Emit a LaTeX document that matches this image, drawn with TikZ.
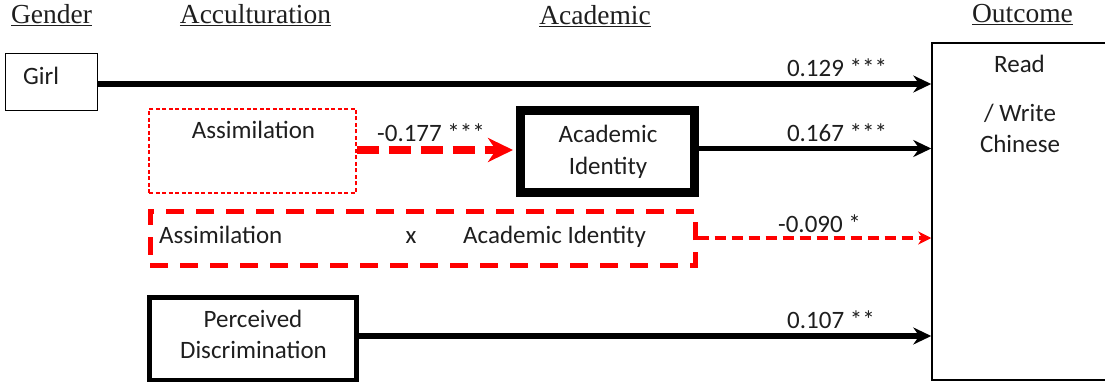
\documentclass[tikz,border=0pt]{standalone}
\usepackage{fontspec}
\setmainfont{Carlito}
\newfontfamily\hdrfont{Liberation Serif}
\usetikzlibrary{arrows.meta}
\definecolor{myred}{RGB}{255,0,0}
\definecolor{txtgray}{RGB}{30,30,30}
\begin{document}
\begin{tikzpicture}[x=1pt,y=-1pt,
  txt/.style={inner sep=0pt, anchor=base, text=txtgray, font=\fontsize{25}{29}\selectfont},
  txtl/.style={txt, anchor=base west},
  hd/.style={inner sep=0pt, anchor=base, text=txtgray, font=\hdrfont\fontsize{27.5}{30}\selectfont},
  box/.style={draw, rectangle, inner sep=0pt},
  blk/.style={line width=5.5pt, -{Stealth[length=18pt,width=17pt,inset=6pt]}},
  redthick/.style={draw=myred, line width=7.5pt, dash pattern=on 22pt off 10pt, -{Stealth[length=25pt,width=24pt,inset=8pt,fill=myred]}},
  redthin/.style={draw=myred, line width=4pt, dash pattern=on 11pt off 6pt, -{Stealth[length=13pt,width=13pt,inset=4pt,fill=myred]}}
]
\useasboundingbox (0,0) rectangle (1105,382);

% headers
\node[hd] (hgender) at (51.5,24) {\underline{Gender}};
\node[hd] (haccult) at (255.5,24) {\underline{Acculturation}};
\node[hd] (hacad) at (595,25) {\underline{Academic}};
\node[hd] (hout) at (1022.5,23) {\underline{Outcome}};

% boxes
\node[box, line width=1.5pt, minimum width=92pt, minimum height=57pt] (girl) at (51.5,82) {};
\node[box, draw=myred, line width=1.2pt, dash pattern=on 4pt off 2.5pt, minimum width=207pt, minimum height=84pt] (assim) at (252.5,151) {};
\node[box, line width=9pt, minimum width=174pt, minimum height=82pt] (acad) at (607.5,151.5) {};
\node[box, draw=myred, line width=5pt, dash pattern=on 18pt off 12pt, minimum width=545pt, minimum height=54pt] (inter) at (422.5,238) {};
\node[box, line width=4.5pt, minimum width=207pt, minimum height=82.5pt] (perc) at (253,338.75) {};
\node[box, line width=1.5pt, minimum width=188pt, minimum height=337pt] (out) at (1026,211.5) {};

% box texts
\node[txtl] (tgirl) at (23,85) {Girl};
\node[txt] (tassim) at (253.5,139) {Assimilation};
\node[txt] (tacad1) at (608,143) {Academic};
\node[txt] (tacad2) at (608,175) {Identity};
\node[txtl] (tint1) at (159,243) {Assimilation};
\node[txt] (tintx) at (411,243) {x};
\node[txtl] (tint2) at (463,243) {Academic Identity};
\node[txt] (tperc1) at (253,327) {Perceived};
\node[txt] (tperc2) at (253.5,358) {Discrimination};
\node[txt] (tout1) at (1019.5,73) {Read};
\node[txt] (tout2) at (1020,122) {/ Write};
\node[txt] (tout3) at (1020,153) {Chinese};

% connectors
\draw[blk] (girl.east |- 0,84) -- (out.west |- 0,84);
\draw[redthick] (assim.east |- 0,150) -- ([xshift=-3pt]acad.west |- 0,150);
\draw[blk] (acad.east |- 0,148.5) -- (out.west |- 0,148.5);
\draw[redthin] (inter.east |- 0,238) -- (out.west |- 0,238);
\draw[blk] (perc.east |- 0,336) -- (out.west |- 0,336);

% connector labels
\node[txt] (l1) at (837,77) {0.129 ***};
\node[txt] (l2) at (431,142) {-0.177 ***};
\node[txt] (l3) at (837,142) {0.167 ***};
\node[txt] (l4) at (819.5,232) {-0.090 *};
\node[txt] (l5) at (831,328) {0.107 **};
\end{tikzpicture}
\end{document}
